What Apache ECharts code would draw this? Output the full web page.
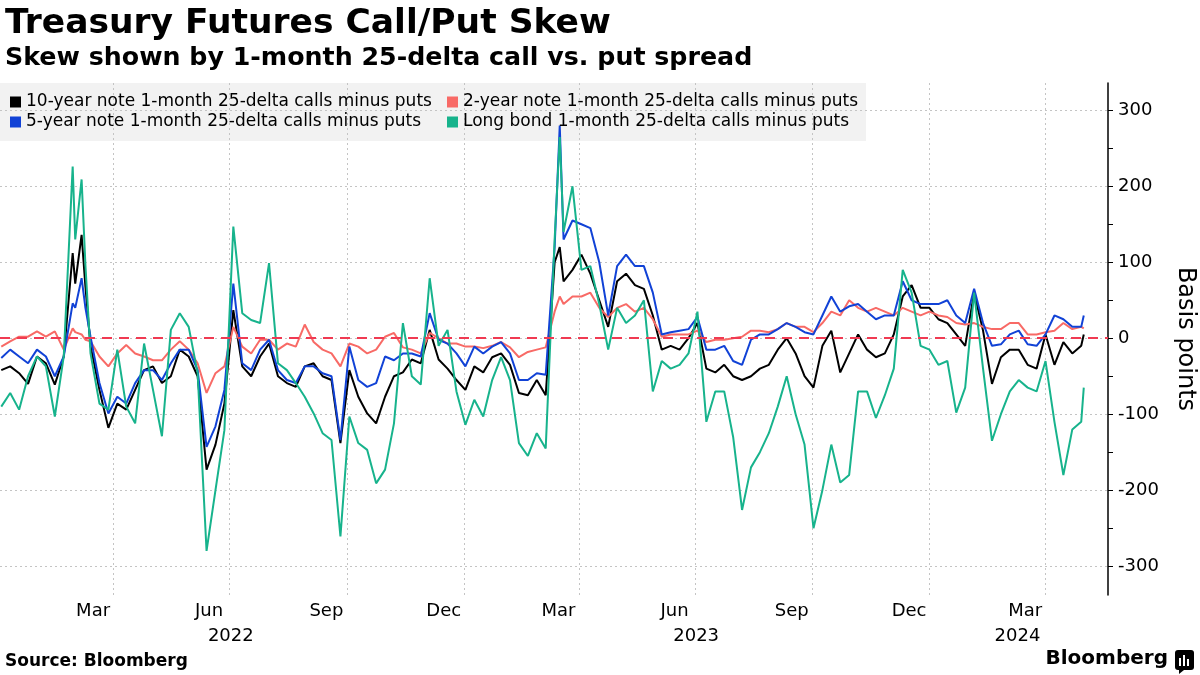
<!DOCTYPE html>
<html>
<head>
<meta charset="utf-8">
<script src="https://cdn.jsdelivr.net/npm/echarts@6/dist/echarts.min.js"></script>
<style>
html, body { margin: 0; padding: 0; background: #fff; }
#container { width: 1200px; height: 675px; }
</style>
</head>
<body>
<div id="container"></div>
<script>
// sample dates (weekly, plus a few extra days around the spikes)
var dates = [
    '2022-01-03', '2022-01-10', '2022-01-17', '2022-01-24', '2022-01-31', '2022-02-07', '2022-02-14', '2022-02-21',
    '2022-02-28', '2022-03-02', '2022-03-07', '2022-03-10', '2022-03-14', '2022-03-21', '2022-03-28', '2022-04-04',
    '2022-04-11', '2022-04-18', '2022-04-25', '2022-05-02', '2022-05-09', '2022-05-16', '2022-05-23', '2022-05-30',
    '2022-06-06', '2022-06-13', '2022-06-20', '2022-06-27', '2022-07-04', '2022-07-11', '2022-07-18', '2022-07-25',
    '2022-08-01', '2022-08-08', '2022-08-15', '2022-08-22', '2022-08-29', '2022-09-05', '2022-09-12', '2022-09-19',
    '2022-09-26', '2022-10-03', '2022-10-10', '2022-10-17', '2022-10-24', '2022-10-31', '2022-11-07', '2022-11-14',
    '2022-11-21', '2022-11-28', '2022-12-05', '2022-12-12', '2022-12-19', '2022-12-26', '2023-01-02', '2023-01-09',
    '2023-01-16', '2023-01-23', '2023-01-30', '2023-02-06', '2023-02-13', '2023-02-20', '2023-02-27', '2023-03-06',
    '2023-03-13', '2023-03-17', '2023-03-20', '2023-03-27', '2023-04-03', '2023-04-10', '2023-04-17', '2023-04-24',
    '2023-05-01', '2023-05-08', '2023-05-15', '2023-05-22', '2023-05-29', '2023-06-05', '2023-06-12', '2023-06-19',
    '2023-06-26', '2023-07-03', '2023-07-10', '2023-07-17', '2023-07-24', '2023-07-31', '2023-08-07', '2023-08-14',
    '2023-08-21', '2023-08-28', '2023-09-04', '2023-09-11', '2023-09-18', '2023-09-25', '2023-10-02', '2023-10-09',
    '2023-10-16', '2023-10-23', '2023-10-30', '2023-11-06', '2023-11-13', '2023-11-20', '2023-11-27', '2023-12-04',
    '2023-12-11', '2023-12-18', '2023-12-25', '2024-01-01', '2024-01-08', '2024-01-15', '2024-01-22', '2024-01-29',
    '2024-02-05', '2024-02-12', '2024-02-19', '2024-02-26', '2024-03-04', '2024-03-11', '2024-03-18', '2024-03-25',
    '2024-04-01', '2024-04-08', '2024-04-15', '2024-04-22', '2024-04-29', '2024-05-01'
];

// basis points
var tenYear = [
    -42, -37, -46, -60, -24, -33, -61, -24,
    112, 72, 136, 68, -10, -68, -118, -86,
    -94, -68, -42, -37, -59, -50, -15, -24,
    -50, -173, -140, -86, 37, -37, -50, -24,
    -7, -50, -59, -64, -37, -33, -50, -55,
    -138, -42, -77, -99, -112, -77, -50, -45,
    -28, -33, 11, -28, -40, -55, -68, -37,
    -45, -25, -20, -35, -72, -75, -55, -75,
    100, 120, 75, 90, 110, 85, 50, 15,
    75, 85, 70, 65, 30, -15, -10, -15,
    0, 20, -40, -45, -35, -50, -55, -50,
    -40, -35, -15, 0, -20, -50, -65, -10,
    10, -45, -20, 5, -15, -25, -20, 5,
    55, 70, 40, 40, 25, 20, 5, -10,
    60, 10, -60, -25, -15, -15, -35, -40,
    5, -35, -5, -20, -10, 5
];
var twoYear = [
    -11, -4, 2, 2, 9, 2, 9, -15,
    13, 8, 5, -2, -4, -24, -37, -20,
    -9, -20, -24, -29, -29, -15, -4, -15,
    -33, -72, -46, -37, 15, -11, -20, -2,
    -2, -15, -7, -11, 18, -5, -15, -20,
    -37, -7, -11, -20, -15, 2, 7, -12,
    -15, -20, 7, 0, -7, -7, -11, -11,
    -13, -10, -5, -12, -25, -18, -15, -12,
    35, 55, 45, 55, 55, 60, 40, 28,
    40, 45, 35, 40, 25, 2, 5, 5,
    5, 10, -5, -2, -2, 0, 2, 10,
    10, 8, 12, 20, 15, 15, 8, 20,
    35, 30, 50, 40, 35, 40, 35, 30,
    40, 35, 30, 35, 30, 28, 20, 18,
    20, 15, 12, 12, 20, 20, 5, 5,
    8, 10, 20, 12, 15, 13
];
var fiveYear = [
    -26, -15, -24, -33, -15, -24, -50, -24,
    46, 40, 79, 40, 2, -59, -99, -77,
    -86, -59, -42, -42, -55, -33, -15, -15,
    -42, -143, -116, -68, 72, -33, -42, -15,
    -2, -42, -55, -59, -37, -37, -46, -50,
    -134, -11, -55, -64, -59, -24, -29, -20,
    -20, -24, 33, -2, -7, -20, -37, -11,
    -20, -11, -5, -20, -55, -55, -46, -48,
    120, 280, 130, 155, 150, 145, 100, 30,
    95, 110, 95, 95, 60, 5, 8, 10,
    12, 28, -15, -15, -10, -30, -35, -2,
    5, 5, 12, 20, 15, 8, 5, 30,
    55, 35, 42, 45, 35, 25, 30, 30,
    75, 50, 45, 45, 45, 50, 30, 20,
    65, 20, -10, -8, 5, 10, -8, -10,
    5, 30, 25, 15, 15, 30
];
var longBond = [
    -90, -72, -94, -50, -24, -37, -103, -24,
    226, 130, 209, 96, -20, -86, -94, -15,
    -90, -112, -7, -68, -129, 11, 33, 15,
    -46, -280, -200, -121, 147, 33, 24, 20,
    99, -33, -42, -59, -77, -99, -125, -134,
    -261, -103, -138, -147, -191, -173, -112, 20,
    -50, -61, 79, -10, 11, -70, -114, -81,
    -103, -55, -25, -55, -138, -155, -125, -145,
    130, 265, 140, 200, 90, 95, 45, -15,
    40, 20, 30, 50, -70, -30, -40, -35,
    -20, 35, -110, -70, -70, -130, -226, -170,
    -150, -125, -90, -50, -100, -140, -250, -200,
    -140, -190, -180, -70, -70, -105, -75, -40,
    90, 60, -10, -15, -35, -30, -98, -65,
    60, -40, -135, -100, -70, -55, -65, -70,
    -30, -110, -180, -120, -110, -65
];

var seriesNames = [
    '10-year note 1-month 25-delta calls minus puts',
    '2-year note 1-month 25-delta calls minus puts',
    '5-year note 1-month 25-delta calls minus puts',
    'Long bond 1-month 25-delta calls minus puts'
];
var seriesColors = ['#000000', '#f86a66', '#1142d6', '#17b38c'];

// axis labels
var monthNames = ['Jan', 'Feb', 'Mar', 'Apr', 'May', 'Jun', 'Jul', 'Aug', 'Sep', 'Oct', 'Nov', 'Dec'];
var monthLabelDates = ['2022-03-16', '2022-06-15', '2022-09-15', '2022-12-16', '2023-03-16', '2023-06-15', '2023-09-15', '2023-12-16', '2024-03-16'];
var gridLineDates = ['2022-04-01', '2022-07-01', '2022-10-01', '2023-01-01', '2023-04-01', '2023-07-01', '2023-10-01', '2024-01-01', '2024-04-01'];
var yearLabelDates = ['2022-07-02', '2023-07-02', '2024-03-10'];
var yTicks = [-300, -250, -200, -150, -100, -50, 0, 50, 100, 150, 200, 250, 300];
var yLabels = [-300, -200, -100, 0, 100, 200, 300];

var FONT = 'DejaVu Sans';

function ts(s) {
    return new Date(s + 'T00:00:00').getTime();
}

function draw() {
    var myChart = echarts.init(document.getElementById('container'));
    var values = [tenYear, twoYear, fiveYear, longBond];

    var series = values.map(function(arr, i) {
        return {
            name: seriesNames[i],
            type: 'line',
            xAxisIndex: 0,
            showSymbol: false,
            symbol: 'none',
            lineStyle: { width: 2, color: seriesColors[i] },
            itemStyle: { color: seriesColors[i] },
            data: dates.map(function(d, j) { return [ts(d), arr[j]]; })
        };
    });
    // zero line
    series[3].markLine = {
        silent: true,
        symbol: 'none',
        label: { show: false },
        lineStyle: { color: '#f03a52', type: [10, 7], width: 2 },
        data: [{ yAxis: 0 }]
    };

    var xMin = ts('2022-01-02');
    var xMax = ts('2024-05-20');

    var option = {
        animation: false,
        backgroundColor: '#ffffff',
        textStyle: { fontFamily: FONT },
        title: {
            text: 'Treasury Futures Call/Put Skew',
            subtext: 'Skew shown by 1-month 25-delta call vs. put spread',
            left: 0,
            top: 2,
            itemGap: 4,
            textStyle: { fontFamily: FONT, fontSize: 34.5, fontWeight: 'bold', color: '#000' },
            subtextStyle: { fontFamily: FONT, fontSize: 25.3, fontWeight: 'bold', color: '#000' }
        },
        legend: {
            left: 1,
            top: 89,
            width: 880,
            padding: [4, 9],
            icon: 'rect',
            itemWidth: 11,
            itemHeight: 11,
            itemGap: 2,
            selectedMode: false,
            data: seriesNames,
            textStyle: { fontFamily: FONT, fontSize: 17, color: '#000', width: 419, lineHeight: 18 }
        },
        grid: { left: 0, right: 92, top: 83, bottom: 80, outerBoundsMode: 'none' },
        xAxis: [{
            type: 'value',
            min: xMin,
            max: xMax,
            axisLine: { show: false },
            axisTick: { show: false, customValues: gridLineDates.map(ts) },
            splitLine: { show: true, lineStyle: { color: '#c4c4c4', type: [2, 3], width: 1 } },
            axisLabel: {
                customValues: monthLabelDates.map(ts),
                formatter: function(v) { return monthNames[new Date(v).getMonth()]; },
                fontFamily: FONT, fontSize: 18, color: '#000', margin: 7
            }
        }, {
            type: 'value',
            position: 'bottom',
            offset: 25,
            min: xMin,
            max: xMax,
            axisLine: { show: false },
            axisTick: { show: false },
            splitLine: { show: false },
            axisLabel: {
                customValues: yearLabelDates.map(ts),
                formatter: function(v) { return String(new Date(v).getFullYear()); },
                fontFamily: FONT, fontSize: 18, color: '#000', margin: 7
            }
        }],
        yAxis: {
            type: 'value',
            position: 'right',
            min: -338,
            max: 336,
            name: 'Basis points',
            nameLocation: 'middle',
            nameRotate: -90,
            nameGap: 65,
            nameTextStyle: { fontFamily: FONT, fontSize: 24, color: '#000' },
            axisLine: { show: true, lineStyle: { color: '#000', width: 1.5 } },
            axisTick: { show: true, length: 5, customValues: yTicks, lineStyle: { color: '#000' } },
            splitLine: { show: true, lineStyle: { color: ['#c4c4c4', 'rgba(0,0,0,0)'], type: [2, 3], width: 1 } },
            axisLabel: {
                customValues: yLabels,
                fontFamily: FONT, fontSize: 18, color: '#000', margin: 10
            }
        },
        graphic: [{
            type: 'rect',
            z: -10,
            shape: { x: 0, y: 83, width: 866, height: 58 },
            style: { fill: '#f2f2f2' }
        }, {
            type: 'text',
            left: 5,
            top: 653,
            style: { text: 'Source: Bloomberg', font: 'bold 17px "DejaVu Sans"', fill: '#000' }
        }, {
            type: 'text',
            right: 32,
            top: 649,
            style: { text: 'Bloomberg', font: 'bold 20px "DejaVu Sans"', fill: '#000' }
        }, {
            type: 'group',
            right: 6,
            top: 650,
            children: [
                { type: 'rect', shape: { x: 0, y: 0, width: 19, height: 20, r: 3 }, style: { fill: '#000' } },
                { type: 'rect', shape: { x: 4, y: 8, width: 2, height: 8 }, style: { fill: '#fff' } },
                { type: 'rect', shape: { x: 8, y: 5, width: 2, height: 11 }, style: { fill: '#fff' } },
                { type: 'rect', shape: { x: 12, y: 9, width: 2, height: 7 }, style: { fill: '#fff' } },
                { type: 'polygon', shape: { points: [[4, 20], [9, 20], [4, 24]] }, style: { fill: '#000' } }
            ]
        }],
        series: series
    };

    myChart.setOption(option);
}

window.addEventListener('load', draw, false);
</script>
</body>
</html>
